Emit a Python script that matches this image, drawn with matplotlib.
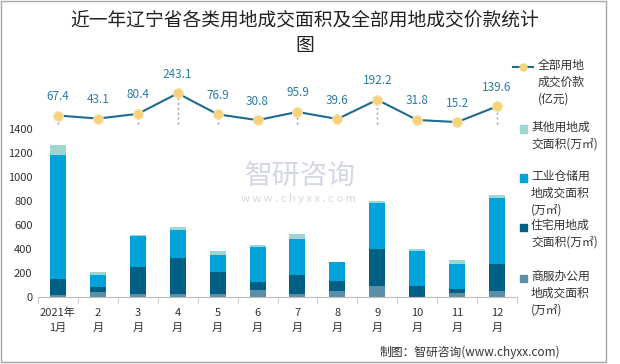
import matplotlib
matplotlib.use("Agg")
import matplotlib.pyplot as plt
from matplotlib.lines import Line2D
from matplotlib.patches import Rectangle
import numpy as np

plt.rcParams['font.family'] = ['Noto Sans CJK SC', 'DejaVu Sans']

months = ["2021年\n1月", "2\n月", "3\n月", "4\n月", "5\n月", "6\n月", "7\n月",
          "8\n月", "9\n月", "10\n月", "11\n月", "12\n月"]
commercial = [17, 42, 22, 28, 28, 56, 22, 47, 89, 3, 31, 47]
residential = [133, 42, 229, 296, 181, 72, 165, 84, 310, 92, 33, 226]
industrial = [1030, 103, 257, 234, 145, 290, 296, 159, 382, 290, 215, 553]
other = [84, 19, 11, 22, 31, 14, 41, 0, 20, 11, 33, 25]
price = [67.4, 43.1, 80.4, 243.1, 76.9, 30.8, 95.9, 39.6, 192.2, 31.8, 15.2, 139.6]
price_labels = ["67.4", "43.1", "80.4", "243.1", "76.9", "30.8", "95.9", "39.6",
                "192.2", "31.8", "15.2", "139.6"]
yticks = [0, 200, 400, 600, 800, 1000, 1200, 1400]

leg_line = "全部用地\n成交价款\n(亿元)"
leg_other = "其他用地成\n交面积(万㎡)"
leg_ind = "工业仓储用\n地成交面积\n(万㎡)"
leg_res = "住宅用地成\n交面积(万㎡)"
leg_com = "商服办公用\n地成交面积\n(万㎡)"

c_other = "#9fd6d2"
c_ind = "#00a3dc"
c_res = "#005f84"
c_com = "#5b8fa8"
c_line = "#1e6b8c"
c_mark = "#f7d27a"
c_lab = "#2c7ca2"

W, H = 620, 364
fig = plt.figure(figsize=(6.2, 3.64), dpi=100)

def fx(px):
    return px / W

def fy(py):
    return 1 - py / H

ax_l, ax_r, ax_b, ax_t = 38, 517, 297, 80
ax = fig.add_axes([fx(ax_l), fy(ax_b), fx(ax_r - ax_l), (ax_b - ax_t) / H])
x = np.arange(len(months))
w = 0.4
b1 = np.array(commercial)
b2 = b1 + np.array(residential)
b3 = b2 + np.array(industrial)
ax.bar(x, commercial, w, color=c_com, zorder=2)
ax.bar(x, residential, w, bottom=b1, color=c_res, zorder=2)
ax.bar(x, industrial, w, bottom=b2, color=c_ind, zorder=2)
ax.bar(x, other, w, bottom=b3, color=c_other, zorder=2)

pxu = 0.12
ymax = (ax_b - ax_t) / pxu
ax.set_ylim(0, ymax)
ax.set_xlim(-0.5, len(months) - 0.5)
ax.set_yticks(yticks)
ax.set_yticklabels([str(v) for v in yticks], fontsize=8, color="#333333")
ax.set_xticks(x)
ax.set_xticklabels(months, fontsize=8, color="#333333", linespacing=1.55)
for t in ax.get_xticklabels():
    t.set_multialignment('center')
ax.set_xticks(np.arange(-0.5, len(months), 1), minor=True)
ax.tick_params(axis='x', which='major', length=0, pad=8)
ax.tick_params(axis='x', which='minor', length=4, color="#bfbfbf")
ax.tick_params(axis='y', length=0, pad=4)
for s in ['top', 'right', 'left']:
    ax.spines[s].set_visible(False)
ax.spines['bottom'].set_color("#bfbfbf")

# secondary axis for price
ax2 = ax.twinx()
zero_px = 124
p_scale = 0.126
rng = (ax_b - ax_t) / p_scale
frac0 = (ax_b - zero_px) / (ax_b - ax_t)
ax2.set_ylim(-frac0 * rng, (1 - frac0) * rng)
ax2.axis('off')
ax2.vlines(x, 0, price, colors="#a0a0a0", linestyles=(0, (1.5, 2)), linewidth=1, zorder=1)
ax2.plot(x, price, color=c_line, linewidth=1.5, zorder=3)
ax2.plot(x, price, linestyle='none', marker='o', markersize=7,
         markerfacecolor=c_mark, markeredgecolor="#f5e2b0", markeredgewidth=0.8, zorder=4)
for xi, v, lab in zip(x, price, price_labels):
    ax2.annotate(lab, (xi, v), xytext=(0, 9), textcoords='offset points',
                 ha='center', va='bottom', fontsize=8.5, color=c_lab)

# title
fig.text(fx(305), fy(20), "近一年辽宁省各类用地成交面积及全部用地成交价款统计",
         ha='center', va='center', fontsize=13.5, color="#222222")
fig.text(fx(305), fy(45), "图", ha='center', va='center', fontsize=13.5, color="#222222")

# legend (manual)
mx = 523
tx = 531
fig.add_artist(Line2D([fx(513), fx(533)], [fy(67), fy(67)], color=c_line, lw=1.5))
fig.add_artist(Line2D([fx(mx)], [fy(67)], marker='o', markersize=5,
                      markerfacecolor=c_mark, markeredgecolor=c_mark, linestyle='none'))
entries = [(leg_line, 67, None), (leg_other, 129, c_other), (leg_ind, 178, c_ind),
           (leg_res, 227, c_res), (leg_com, 278, c_com)]
for text, ypx, col in entries:
    if col is not None:
        fig.add_artist(Rectangle((fx(mx - 3.5), fy(ypx + 3.5)), 7 / W, 7 / H,
                                 transform=fig.transFigure, color=col))
    fig.text(fx(tx + (7 if col is None else 0)), fy(ypx - 8), text, ha='left', va='top',
             fontsize=8.5, color="#333333", linespacing=1.4)

# watermark
fig.text(fx(300), fy(176), "智研咨询", ha='center', va='center', fontsize=20,
         color="#c9ced8", alpha=0.8, zorder=0)
fig.text(fx(298), fy(199), "w w w . c h y x x . c o m", ha='center', va='center',
         fontsize=8, color="#c9ced8", alpha=0.8, zorder=0)

# source
fig.text(fx(470), fy(352), "制图：智研咨询(www.chyxx.com)", ha='center', va='center',
         fontsize=8.5, color="#333333")

# frame
fig.add_artist(Rectangle((fx(1), fy(362)), (605 / W), (361 / H), transform=fig.transFigure,
                         fill=False, edgecolor="#a6a6a6", lw=1))

fig.savefig("out.png", dpi=100)
